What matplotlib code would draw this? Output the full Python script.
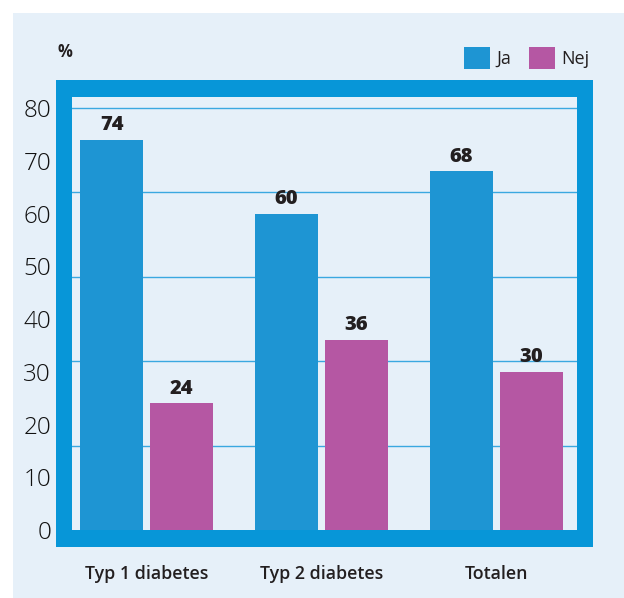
import matplotlib

matplotlib.use("Agg")
import matplotlib.pyplot as plt
import numpy as np
from matplotlib.patches import Patch, Rectangle

categories = ["Typ 1 diabetes", "Typ 2 diabetes", "Totalen"]
ja_values = [74, 60, 68]
nej_values = [24, 36, 30]
series_names = ["Ja", "Nej"]
y_ticks = [0, 10, 20, 30, 40, 50, 60, 70, 80]
grid_levels = [16, 32, 48, 64, 80]

BG = "#e6f0f9"
FRAME = "#0796d8"
JA = "#1e95d3"
NEJ = "#b557a3"
GRID = "#3aa8e0"
TEXT = "#231f20"

plt.rcParams["font.family"] = ["Open Sans", "DejaVu Sans"]

W, H = 624, 598
fig = plt.figure(figsize=(W / 100, H / 100), dpi=100)
fig.patch.set_facecolor("white")


def px_rect(x0, y0, x1, y1):
    # pixel box (top-left origin) -> figure fraction (left, bottom, width, height)
    return x0 / W, 1 - y1 / H, (x1 - x0) / W, (y1 - y0) / H


l, b, w, h = px_rect(13, 13, W + 2, H + 2)
fig.patches.append(Rectangle((l, b), w, h, transform=fig.transFigure,
                             facecolor=BG, edgecolor="none", zorder=-2))
l, b, w, h = px_rect(56, 80, 593, 547)
fig.patches.append(Rectangle((l, b), w, h, transform=fig.transFigure,
                             facecolor=FRAME, edgecolor="none", zorder=-1))

ax = fig.add_axes(px_rect(72, 97, 577, 530))
ax.set_zorder(1)
ax.set_facecolor(BG)
for s in ax.spines.values():
    s.set_visible(False)

x = np.arange(len(categories))
bw = 0.36
off = 0.2

ax.hlines(grid_levels, -0.5, 2.6, color=GRID, lw=1.0, zorder=1)
bars_ja = ax.bar(x - off, ja_values, bw, color=JA, zorder=2, label=series_names[0])
bars_nej = ax.bar(x + off, nej_values, bw, color=NEJ, zorder=2, label=series_names[1])

for bars, vals in ((bars_ja, ja_values), (bars_nej, nej_values)):
    for r, v in zip(bars, vals):
        ax.text(r.get_x() + r.get_width() / 2, v + 0.9, f"{v}", ha="center", va="bottom",
                fontsize=14.5, fontweight="heavy", color=TEXT)

ax.set_xlim(-0.426, 2.46)
ax.set_ylim(0, 82.1)
ax.set_yticks(y_ticks)
ax.set_yticklabels([str(t) for t in y_ticks], fontsize=17.5, fontweight="light",
                   color="#111111")
ax.tick_params(axis="y", length=0, pad=15)
ax.set_xticks(x)
ax.set_xticklabels(categories, fontsize=12.8, fontweight="semibold", color=TEXT)
ax.tick_params(axis="x", length=0, pad=25)

fig.text(58 / W, 1 - 52 / H, "%", fontsize=12, fontweight="bold", color=TEXT,
         ha="left", va="center")

handles = [Patch(facecolor=JA, edgecolor="none"), Patch(facecolor=NEJ, edgecolor="none")]
fig.legend(handles, series_names, ncol=2, loc="center right",
           bbox_to_anchor=(606 / W, 1 - 58 / H), frameon=False, fontsize=13,
           handlelength=1.45, handleheight=1.45, handletextpad=0.35, columnspacing=1.0,
           labelcolor=TEXT)

fig.savefig("out.png", dpi=100)
